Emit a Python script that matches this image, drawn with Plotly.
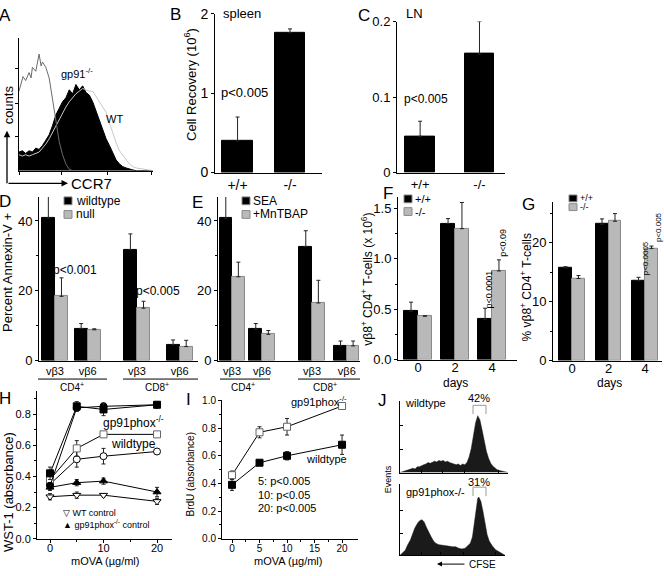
import plotly.graph_objects as go

W, H = 664, 576
FONT = "Arial, Liberation Sans, sans-serif"

# ---------------- data ----------------
# A: CCR7 histograms (channel, counts)
a_x = [0, 2.5, 5, 7.5, 10, 12.5, 15, 17.5, 20, 22.5, 25, 27.5, 30, 32.5, 35, 37.5, 40,
       42.5, 45, 47.5, 50, 52.5, 55, 57.5, 60, 62.5, 65, 67.5, 70, 72.5, 75, 77.5, 80,
       82.5, 85, 87.5, 90, 92.5, 95, 97.5, 100]
a_gp91 = [14, 15, 13, 15, 14, 17, 16, 19, 23, 27, 34, 42, 47, 52, 55, 61, 58, 65, 61, 64,
          59, 57, 52, 45, 37, 30, 24, 19, 13, 8, 5, 3, 2, 1, 0.5, 0, 0, 0, 0, 0, 0]
a_wt = [12, 11, 12, 11, 12, 13, 14, 17, 20, 24, 29, 34, 38, 43, 48, 52, 55, 58, 60, 62,
        61, 60, 60, 56, 53, 49, 44, 36, 28, 21, 15, 11, 8, 5, 3, 2, 1.5, 1, 0.5, 0, 0]
a_ctrl_x = [0, 1.5, 3, 5, 7.5, 9, 10, 12.5, 14, 15, 16.5, 17.5, 20, 22.5, 25, 27.5, 30,
            32.5, 35, 37.5, 40]
a_ctrl = [60, 66, 71, 68, 74, 70, 78, 75, 84, 88, 79, 82, 78, 70, 54, 36, 22, 12, 5, 1, 0]

# B, C: cell recovery
bc_groups = ["+/+", "-/-"]
b_vals = [0.40, 1.76]
b_err = [0.30, 0.05]
c_vals = [0.048, 0.157]
c_err = [0.020, 0.043]

# D, E: percent Annexin-V+
de_cats = ["vβ3", "vβ6", "vβ3", "vβ6"]
de_subsets = ["CD4<sup>+</sup>", "CD8<sup>+</sup>"]
d_wt = [40.8, 9.2, 31.8, 4.5]
d_wt_err = [6.4, 1.4, 4.5, 1.4]
d_null = [18.4, 8.8, 15.0, 4.0]
d_null_err = [5.3, 0.3, 2.0, 1.8]
e_sea = [40.8, 9.0, 32.7, 4.2]
e_sea_err = [6.4, 1.6, 4.5, 1.4]
e_mn = [24.0, 7.5, 16.5, 4.2]
e_mn_err = [4.2, 1.1, 6.5, 1.4]

# F, G: vb8+ CD4+ T cells over days
fg_days = [0, 2, 4]
f_wt = [0.48, 1.35, 0.40]
f_wt_err = [0.09, 0.05, 0.11]
f_ko = [0.43, 1.30, 0.88]
f_ko_err = [0.005, 0.26, 0.11]
g_wt = [15.7, 23.1, 13.5]
g_wt_err = [0.2, 0.9, 0.6]
g_ko = [13.9, 23.6, 19.0]
g_ko_err = [0.5, 1.3, 0.4]

# H: WST-1
hi_dose = [0, 5, 10, 20]
h_ko_sq = [0.42, 0.85, 0.83, 0.86]
h_ko_sq_err = [0.04, 0.03, 0.04, 0.01]
h_ko_ci = [0.34, 0.84, 0.85, 0.86]
h_ko_ci_err = [0.02, 0.02, 0.02, 0.01]
h_wt_sq = [0.38, 0.58, 0.67, 0.67]
h_wt_sq_err = [0.03, 0.05, 0.01, 0.01]
h_wt_ci = [0.35, 0.51, 0.53, 0.56]
h_wt_ci_err = [0.02, 0.05, 0.05, 0.01]
h_ko_ctl = [0.33, 0.36, 0.37, 0.30]
h_ko_ctl_err = [0.02, 0.02, 0.02, 0.03]
h_wt_ctl = [0.27, 0.28, 0.28, 0.24]
h_wt_ctl_err = [0.02, 0.02, 0.01, 0.02]

# I: BrdU
i_ko = [0.46, 0.77, 0.81, 0.96]
i_ko_err = [0.03, 0.04, 0.06, 0.02]
i_wt = [0.39, 0.55, 0.60, 0.68]
i_wt_err = [0.04, 0.01, 0.03, 0.07]

# J: CFSE histograms
j_top_x = [0, 2, 4, 6, 8, 10, 12, 14, 16, 18, 20, 22, 24, 26, 28, 30, 32, 34, 36, 38, 40,
           42, 44, 46, 48, 50, 52, 54, 56, 58, 60, 62, 64, 66, 68, 70, 72, 74, 76, 78, 80,
           82, 84, 86, 88, 90, 92, 94, 96, 98, 100]
j_top = [0, 1, 2, 3, 4, 4, 6, 5, 8, 8, 10, 11, 12, 14, 13, 15, 16, 15, 17, 16, 17, 15, 16,
         14, 13, 13, 11, 12, 10, 12, 11, 14, 22, 34, 52, 70, 80, 74, 60, 44, 30, 20, 13, 9,
         6, 4, 3, 2, 1, 1, 0]
j_bot_x = [0, 2, 5, 7, 10, 12, 14, 17, 19, 21, 23, 25, 27, 30, 32, 34, 37, 40, 43, 46, 50,
           53, 56, 59, 62, 64, 67, 69, 71, 73, 74, 75, 77, 79, 81, 83, 85, 88, 91, 94, 97, 100]
j_bot = [0, 3, 7, 14, 22, 30, 38, 46, 49, 50, 47, 40, 33, 25, 20, 17, 15, 14, 13, 13, 12,
         12, 10, 9, 10, 13, 17, 26, 45, 68, 80, 82, 76, 62, 44, 29, 20, 13, 8, 5, 2, 0]

# ---------------- layout helpers ----------------
d_pos = [0, 1, 2.5, 3.8]
e_pos = [0, 1, 2.67, 3.83]


def X(px):
    return px / W


def Y(py):
    return 1 - py / H


layout = dict(width=W, height=H, margin=dict(l=0, r=0, t=0, b=0),
              paper_bgcolor="white", plot_bgcolor="rgba(0,0,0,0)",
              showlegend=False, font=dict(family=FONT, color="black"),
              bargap=0)


def set_axes(i, xpx, ypx, xr, yr, xkw=None, ykw=None):
    s = "" if i == 1 else str(i)
    common = dict(showline=True, linecolor="black", linewidth=1, showgrid=False,
                  zeroline=False, ticks="", showticklabels=False, fixedrange=True,
                  ticklen=3, tickcolor="black", tickwidth=1,
                  tickfont=dict(family=FONT, size=12, color="black"))
    xa = dict(common, domain=[X(xpx[0]), X(xpx[1])], range=xr, anchor="y" + s)
    ya = dict(common, domain=[Y(ypx[1]), Y(ypx[0])], range=yr, anchor="x" + s)
    if xkw:
        xa.update(xkw)
    if ykw:
        ya.update(ykw)
    layout["xaxis" + s] = xa
    layout["yaxis" + s] = ya


def tf(size):
    return dict(family=FONT, size=size, color="black")


def minor(vals):
    return dict(tickvals=vals, ticks="outside", ticklen=2, tickcolor="black")


set_axes(1, (19, 153), (32, 168), [0, 100], [0, 100],
         dict(ticks="outside", tickvals=[0, 32, 66, 99]),
         dict(ticks="outside", tickvals=[26, 51, 77]))
set_axes(2, (215, 322), (7, 170), [-0.43, 1.61], [0, 2],
         dict(showticklabels=True, tickvals=[0, 1], ticktext=bc_groups, tickfont=tf(14)),
         dict(ticks="outside", showticklabels=True, tickvals=[0, 1, 2], tickfont=tf(14)))
set_axes(3, (397, 505), (15, 170), [-0.39, 1.43], [0, 0.2],
         dict(showticklabels=True, tickvals=[0, 1], ticktext=bc_groups, tickfont=tf(13)),
         dict(ticks="outside", showticklabels=True, tickvals=[0, 0.1, 0.2],
              ticktext=["0", "0.1", "0.2"], tickfont=tf(13)))
set_axes(4, (39, 198), (195, 363), [-0.485, 4.36], [0, 46.9],
         dict(showticklabels=True, tickvals=d_pos, ticktext=de_cats, tickfont=tf(11)),
         dict(ticks="outside", showticklabels=True, tickvals=[0, 20, 40], tickfont=tf(13),
              minor=minor([10, 30])))
set_axes(5, (218, 360), (195, 363), [-0.47, 4.27], [0, 46.9],
         dict(showticklabels=True, tickvals=e_pos, ticktext=de_cats, tickfont=tf(11)),
         dict(ticks="outside", showticklabels=True, tickvals=[0, 20, 40], tickfont=tf(13),
              minor=minor([10, 30])))
set_axes(6, (398, 517), (195, 362), [-1.08, 5.35], [0, 1.615],
         dict(showticklabels=True, tickvals=fg_days, tickfont=tf(13), ticklabelstandoff=-4),
         dict(ticks="outside", showticklabels=True, tickvals=[0, 0.5, 1.0, 1.5],
              ticktext=["0.0", "0.5", "1.0", "1.5"], tickfont=tf(13),
              minor=minor([0.25, 0.75, 1.25])))
set_axes(7, (553, 662), (200, 363), [-1.04, 4.93], [0, 26.9],
         dict(showticklabels=True, tickvals=fg_days, tickfont=tf(13), ticklabelstandoff=-4),
         dict(ticks="outside", showticklabels=True, tickvals=[0, 10, 20], tickfont=tf(13),
              minor=minor([5, 15, 25])))
set_axes(8, (37, 172), (394, 546), [-2.43, 22.8], [0, 0.95],
         dict(ticks="outside", showticklabels=True, tickvals=[0, 10, 20], tickfont=tf(11),
              minor=minor([5, 15]), ticklabelstandoff=-4),
         dict(ticks="outside", showticklabels=True, tickvals=[0, 0.2, 0.4, 0.6, 0.8],
              ticktext=["0.0", "0.2", "0.4", "0.6", "0.8"], tickfont=tf(11),
              minor=minor([0.1, 0.3, 0.5, 0.7, 0.9])))
set_axes(9, (222, 358), (404, 546), [-1.82, 22.9], [0, 1.0],
         dict(ticks="outside", showticklabels=True, tickvals=[0, 5, 10, 15, 20], tickfont=tf(10),
              minor=minor([2.5, 7.5, 12.5, 17.5]), ticklabelstandoff=-3),
         dict(ticks="outside", showticklabels=True, tickvals=[0, 0.2, 0.4, 0.6, 0.8, 1.0],
              ticktext=["0.0", "0.2", "0.4", "0.6", "0.8", "1.0"], tickfont=tf(10),
              minor=minor([0.1, 0.3, 0.5, 0.7, 0.9])))
set_axes(10, (400, 508), (405, 478), [0, 100], [0, 100],
         dict(ticks="inside", tickvals=[20, 39, 60, 91], ticklen=3),
         dict(ticks="inside", tickvals=[33, 66], ticklen=3))
set_axes(11, (400, 505), (490, 563), [0, 100], [0, 100],
         dict(ticks="inside", tickvals=[20, 39, 60, 91], ticklen=3),
         dict(ticks="inside", tickvals=[31, 63], ticklen=3))

traces = []

# ---- A ----
traces.append(go.Scatter(x=a_x, y=a_gp91, mode="lines", fill="tozeroy", fillcolor="black",
                         line=dict(color="black", width=1), xaxis="x", yaxis="y"))
traces.append(go.Scatter(x=a_x, y=a_wt, mode="lines", line=dict(color="#c8c8c8", width=1),
                         xaxis="x", yaxis="y"))
traces.append(go.Scatter(x=a_ctrl_x, y=a_ctrl, mode="lines", line=dict(color="#6a6a6a", width=1),
                         xaxis="x", yaxis="y"))

BLACK = "black"
GRAY = "#b9b9b9"
GRAY_LINE = "#8a8a8a"


def err(vals, color="#222"):
    return dict(type="data", symmetric=False, array=vals, arrayminus=[0] * len(vals),
                color=color, thickness=1, width=2)


def bars(x, y, e, color, line, w, off, ax):
    return go.Bar(x=x, y=y, width=[w] * len(x), offset=[off] * len(x),
                  marker=dict(color=color, line=dict(color=line, width=1)),
                  error_y=err(e), xaxis="x" + ax, yaxis="y" + ax)


# ---- B, C ----
traces.append(bars([0, 1], b_vals, b_err, BLACK, BLACK, 0.59, -0.295, "2"))
traces.append(bars([0, 1], c_vals, c_err, BLACK, BLACK, 0.5, -0.25, "3"))
# ---- D, E ----
traces.append(bars(d_pos, d_wt, d_wt_err, BLACK, BLACK, 0.4, -0.4, "4"))
traces.append(bars(d_pos, d_null, d_null_err, GRAY, GRAY_LINE, 0.4, 0, "4"))
traces.append(bars(e_pos, e_sea, e_sea_err, BLACK, BLACK, 0.42, -0.42, "5"))
traces.append(bars(e_pos, e_mn, e_mn_err, GRAY, GRAY_LINE, 0.42, 0, "5"))
# ---- F, G ----
traces.append(bars(fg_days, f_wt, f_wt_err, BLACK, BLACK, 0.75, -0.75, "6"))
traces.append(bars(fg_days, f_ko, f_ko_err, GRAY, GRAY_LINE, 0.75, 0, "6"))
traces.append(bars(fg_days, g_wt, g_wt_err, BLACK, BLACK, 0.71, -0.71, "7"))
traces.append(bars(fg_days, g_ko, g_ko_err, GRAY, GRAY_LINE, 0.71, 0, "7"))


def line(x, y, e, symbol, mcolor, ax, size=7, fill="black"):
    return go.Scatter(x=x, y=y, mode="lines+markers",
                      line=dict(color="black", width=1),
                      marker=dict(symbol=symbol, size=size, color=fill,
                                  line=dict(color=mcolor, width=1)),
                      error_y=dict(type="data", array=e, color="#222", thickness=1, width=2),
                      xaxis="x" + ax, yaxis="y" + ax)


# ---- H ----
traces.append(line(hi_dose, h_wt_ctl, h_wt_ctl_err, "triangle-down", "black", "8", fill="white"))
traces.append(line(hi_dose, h_ko_ctl, h_ko_ctl_err, "triangle-up", "black", "8"))
traces.append(line(hi_dose, h_wt_ci, h_wt_ci_err, "circle", "black", "8", fill="white"))
traces.append(line(hi_dose, h_wt_sq, h_wt_sq_err, "square", "#666", "8", fill="white"))
traces.append(line(hi_dose, h_ko_ci, h_ko_ci_err, "circle", "black", "8"))
traces.append(line(hi_dose, h_ko_sq, h_ko_sq_err, "square", "black", "8"))
# ---- I ----
traces.append(line(hi_dose, i_ko, i_ko_err, "square", "#666", "9", fill="white"))
traces.append(line(hi_dose, i_wt, i_wt_err, "square", "black", "9"))
# ---- J ----
traces.append(go.Scatter(x=j_top_x, y=j_top, mode="lines", fill="tozeroy", fillcolor="#1a1a1a",
                         line=dict(color="#1a1a1a", width=0.5), xaxis="x10", yaxis="y10"))
traces.append(go.Scatter(x=j_bot_x, y=j_bot, mode="lines", fill="tozeroy", fillcolor="#1a1a1a",
                         line=dict(color="#1a1a1a", width=0.5), xaxis="x11", yaxis="y11"))

# ---------------- annotations ----------------
anns = []


def ann(text, x, y, size, xanchor="center", angle=0, color="black"):
    anns.append(dict(text=text, x=X(x), y=Y(y), xref="paper", yref="paper", showarrow=False,
                     font=dict(family=FONT, size=size, color=color), xanchor=xanchor,
                     yanchor="middle", textangle=angle, borderpad=0))


for letter, lx, ly in [("A", 5, 9), ("B", 175, 8), ("C", 364, 9), ("D", 5, 200),
                       ("E", 197, 201), ("F", 388, 191), ("G", 528, 203), ("H", 5, 402),
                       ("I", 188, 403), ("J", 383, 404)]:
    ann(letter, lx, ly, 17)

ann("gp91<sup>-/-</sup>", 77, 68, 11)
ann("WT", 115, 115, 11)
ann("counts", 8, 101, 13, angle=-90)
ann("CCR7", 70, 181, 15, xanchor="left")

ann("spleen", 242, 7, 13)
ann("p<0.005", 244, 88, 13)
ann("Cell Recovery (10<sup>6</sup>)", 190, 80, 13, angle=-90)
ann("LN", 414, 7, 13)
ann("p<0.005", 426, 94, 12)

ann("Percent Annexin-V +", 8, 273, 13, angle=-90)
ann("p<0.001", 75, 270, 12)
ann("p<0.005", 158, 292, 12)
ann("wildtype", 75, 199, 12, xanchor="left")
ann("null", 75, 213, 12, xanchor="left")
ann(de_subsets[0], 72, 390, 10)
ann(de_subsets[1], 157, 390, 10)
ann("SEA", 252, 199, 12, xanchor="left")
ann("+MnTBAP", 252, 213, 12, xanchor="left")
ann(de_subsets[0], 243, 390, 10)
ann(de_subsets[1], 325, 390, 10)

ann("vβ8<sup>+</sup> CD4<sup>+</sup> T-cells (x 10<sup>6</sup>)", 367, 280, 12, angle=-90)
ann("days", 455, 386, 12)
ann("+/+", 414, 197, 11, xanchor="left")
ann("-/-", 414, 210, 11, xanchor="left")
ann("p<0.0001", 489, 290, 9, angle=-90)
ann("p<0.09", 503, 242, 9, angle=-90)

ann("% vβ8<sup>+</sup> CD4<sup>+</sup> T-cells", 525, 288, 12, angle=-90)
ann("days", 609, 386, 12)
ann("+/+", 579, 196, 9, xanchor="left")
ann("-/-", 579, 205, 9, xanchor="left")
ann("p<0.0005", 645, 258, 8, angle=-90)
ann("p<0.005", 658, 226, 8, angle=-90)

ann("WST-1 (absorbance)", 8, 498, 13, angle=-90)
ann("mOVA (µg/ml)", 105, 569, 11)
ann("gp91phox<sup>-/-</sup>", 102, 426, 12, xanchor="left")
ann("wildtype", 110, 449, 12, xanchor="left")
ann("▽ WT control", 62, 520, 9, xanchor="left")
ann("▲ gp91phox<sup>-/-</sup> control", 62, 531, 9, xanchor="left")

ann("BrdU (absorbance)", 190, 480, 10, angle=-90)
ann("mOVA (µg/ml)", 288, 569, 11)
ann("gp91phox<sup>-/-</sup>", 290, 405, 11, xanchor="left")
ann("wildtype", 305, 464, 11, xanchor="left")
ann("5: p<0.005", 257, 487, 11, xanchor="left")
ann("10: p<0.05", 257, 501, 11, xanchor="left")
ann("20: p<0.005", 257, 514, 11, xanchor="left")

ann("wildtype", 404, 407, 11, xanchor="left")
ann("42%", 479, 401, 11)
ann("gp91phox-/-", 405, 498, 11, xanchor="left")
ann("31%", 479, 488, 11)
ann("Events", 388, 485, 9, angle=-90)
ann("CFSE", 468, 572, 10, xanchor="left")

# arrows
arrow = dict(xref="paper", yref="paper", text="", showarrow=True, arrowhead=2,
             arrowsize=1, arrowwidth=1.3, arrowcolor="black")
anns.append(dict(arrow, x=X(7), y=Y(127), ax=0, ay=54))
anns.append(dict(arrow, x=X(68), y=Y(181), ax=-61, ay=0))
anns.append(dict(arrow, x=X(437), y=Y(572), ax=29, ay=0, arrowwidth=1))
layout["annotations"] = anns

# ---------------- shapes ----------------
shapes = []


def rect(x0, y0, x1, y1, fill, line):
    shapes.append(dict(type="rect", xref="paper", yref="paper", x0=X(x0), x1=X(x1),
                       y0=Y(y1), y1=Y(y0), fillcolor=fill, line=dict(color=line, width=1)))


def seg(x0, y0, x1, y1, color="black", width=1):
    shapes.append(dict(type="line", xref="paper", yref="paper", x0=X(x0), x1=X(x1),
                       y0=Y(y0), y1=Y(y1), line=dict(color=color, width=width)))


rect(64, 195, 72, 203, BLACK, GRAY_LINE)
rect(64, 209, 72, 217, GRAY, GRAY_LINE)
rect(242, 195, 250, 203, BLACK, GRAY_LINE)
rect(242, 209, 250, 217, GRAY, GRAY_LINE)
rect(404, 193, 412, 201, BLACK, GRAY_LINE)
rect(404, 206, 412, 214, GRAY, GRAY_LINE)
rect(569, 193, 577, 200, BLACK, GRAY_LINE)
rect(569, 202, 577, 209, GRAY, GRAY_LINE)

seg(38, 382, 107, 382)
seg(123, 382, 198, 382)
seg(220, 382, 270, 382)
seg(298, 382, 360, 382)

for yt, yb in [(409, 418), (493, 502)]:
    seg(473, yt, 486, yt, "#999")
    seg(473, yt, 473, yb, "#999")
    seg(486, yt, 486, yb, "#999")

layout["shapes"] = shapes

fig = go.Figure(data=traces, layout=layout)
fig.write_html("out.html", config={"displayModeBar": False},
               post_script="document.body.style.margin='0';document.body.style.padding='0';"
                           "document.body.style.overflow='hidden';")
